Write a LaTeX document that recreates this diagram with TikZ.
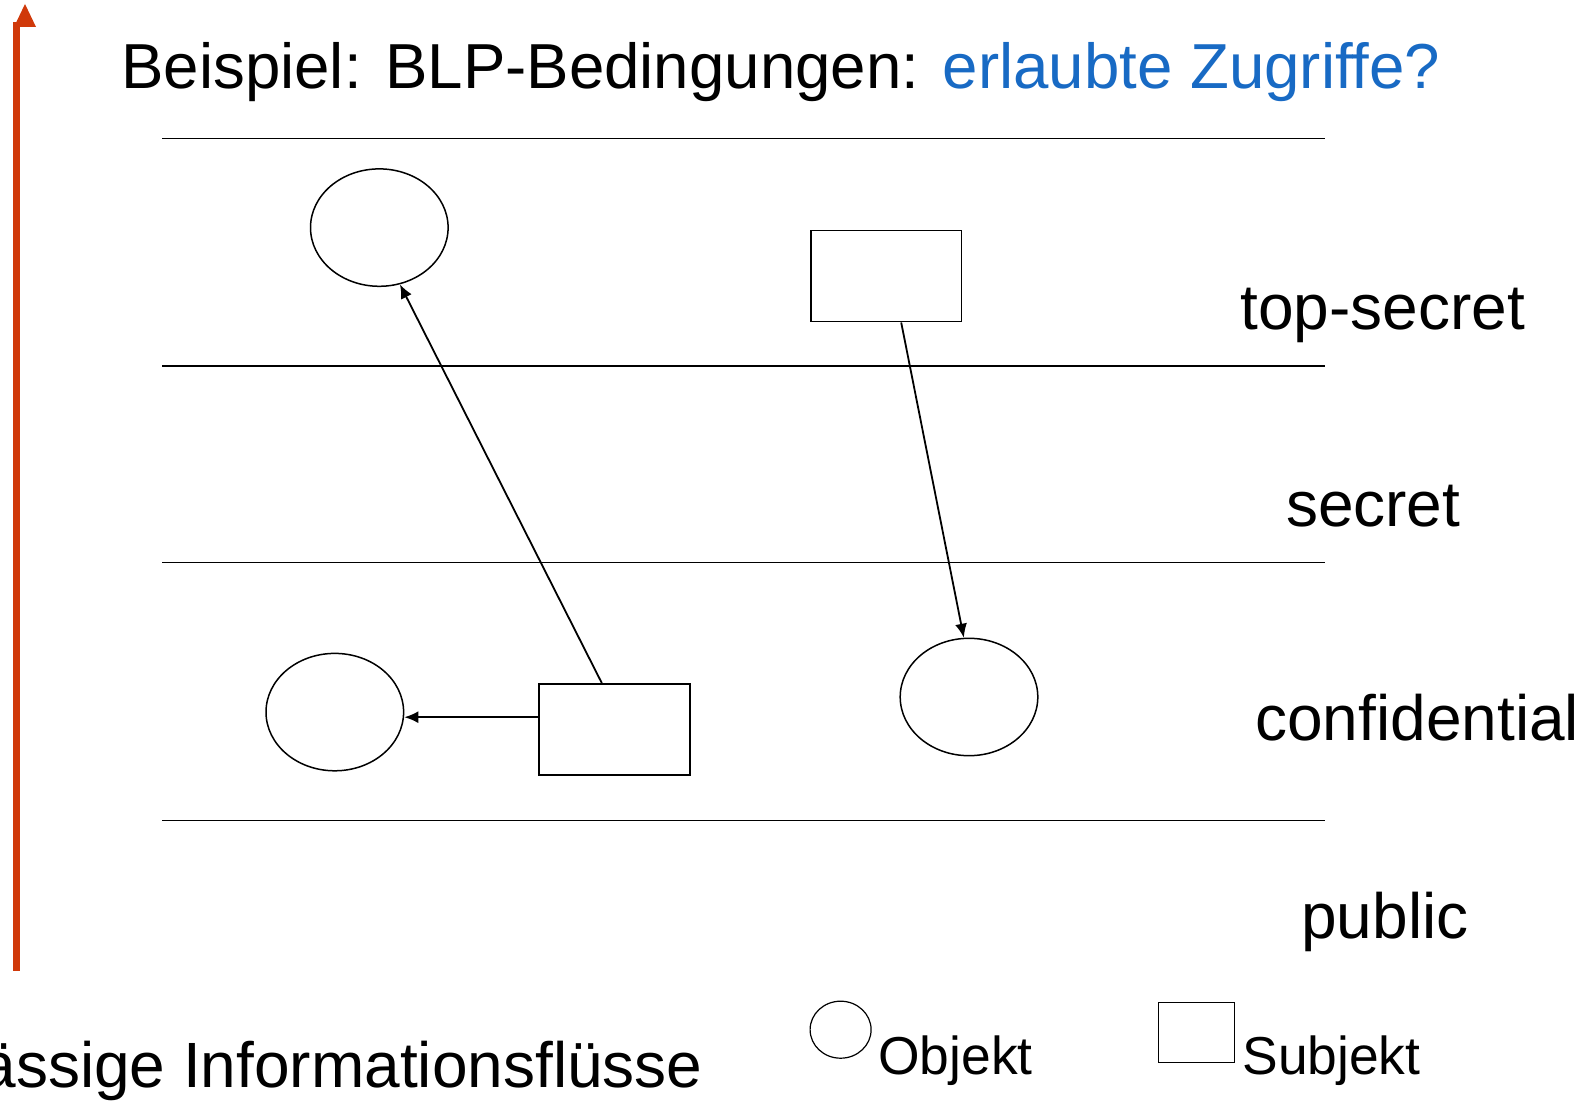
\documentclass[tikz,border=0pt]{standalone}
\usepackage{fontspec}
\setmainfont{Liberation Sans}
\usetikzlibrary{arrows.meta,shapes.geometric}
\definecolor{arrowred}{RGB}{208,57,10}
\definecolor{titleblue}{RGB}{24,106,196}
\begin{document}
\begin{tikzpicture}[x=0.5pt,y=-0.5pt,
  obj/.style={draw,ellipse,line width=0.75pt,minimum width=68.8pt,minimum height=58.7pt,inner sep=0pt},
  subj/.style={draw,rectangle,line width=0.75pt,minimum width=75.35pt,minimum height=45.5pt,inner sep=0pt},
  level/.style={line width=0.75pt},
  flow/.style={line width=0.9pt,-{Latex[length=7pt,width=6pt]}},
  lbl/.style={font=\fontsize{32}{38}\selectfont,inner sep=0pt},
  leg/.style={font=\fontsize{26.7}{32}\selectfont,inner sep=0pt}]
\useasboundingbox (0,0) rectangle (1586,1101);
% red arrow
\fill[arrowred] (13,22) rectangle (20,971);
\fill[arrowred] (25,4) -- (36,27) -- (14,27) -- cycle;
% title
\node[lbl,anchor=base west] (title) at (121,89) {\fontsize{31.8}{38}\selectfont Beispiel: BLP-Bedingungen: \textcolor{titleblue}{erlaubte Zugriffe?}};
% level lines
\coordinate (l1a) at (162,138.6); \coordinate (l1b) at (1325,138.6);
\coordinate (l2a) at (162,366.2); \coordinate (l2b) at (1325,366.2);
\coordinate (l3a) at (162,562.4); \coordinate (l3b) at (1325,562.4);
\coordinate (l4a) at (162,820.3); \coordinate (l4b) at (1325,820.3);
\draw[level] (l1a) -- (l1b);
\draw[level] (l2a) -- (l2b);
\draw[level] (l3a) -- (l3b);
\draw[level] (l4a) -- (l4b);
% level labels
\node[lbl,anchor=base west] (ts) at (1240,330) {top-secret};
\node[lbl,anchor=base west] (se) at (1285.6,527) {secret};
\node[lbl,anchor=base west] (co) at (1255,740) {confidential};
\node[lbl,anchor=base west] (pu) at (1301,938) {public};
% objects and subjects
\node[obj] (o1) at (379.3,227.6) {};
\node[obj] (o2) at (334.8,712.1) {};
\node[obj] (o3) at (969,697) {};
\node[subj] (s1) at (886.1,276.2) {};
\node[subj] (s2) at (614.5,729.3) {};
% flows
\coordinate (s2n) at ([xshift=-6.35pt]s2.north);
\coordinate (s1s) at ([xshift=7.55pt]s1.south);
\coordinate (s2w) at ([yshift=6.05pt]s2.west);
\draw[flow] (s2n) -- (o1.290);
\draw[flow] (s2w) -- (o2.east |- s2w);
\draw[flow] (s1s) -- (o3.95);
% legend
\node[draw,ellipse,line width=0.6pt,minimum width=30.5pt,minimum height=28.5pt,inner sep=0pt] (lo) at (840.6,1029.7) {};
\node[leg,anchor=base west] (lot) at (878,1074) {Objekt};
\node[draw,rectangle,line width=0.6pt,minimum width=38pt,minimum height=30pt,inner sep=0pt] (ls) at (1196.6,1032.6) {};
\node[leg,anchor=base west] (lst) at (1242,1074) {Subjekt};
% bottom text
\node[lbl,anchor=base east] (bt) at (703,1087) {ässige Informationsflüsse};
\end{tikzpicture}
\end{document}
